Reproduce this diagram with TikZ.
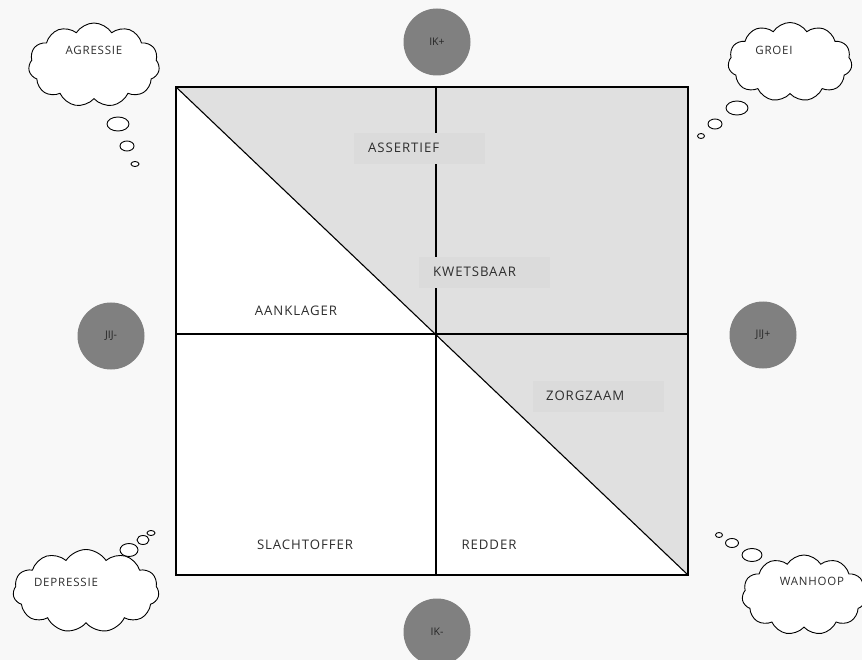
\documentclass[tikz,border=0pt]{standalone}
\usepackage{fontspec}
\setmainfont{Open Sans}
\newfontfamily\labelfont[LetterSpace=7]{Open Sans}
\usetikzlibrary{shapes.symbols,shapes.geometric}
\definecolor{bgc}{HTML}{F8F8F8}
\definecolor{regc}{HTML}{E0E0E0}
\definecolor{boxc}{HTML}{DBDBDB}
\definecolor{circc}{HTML}{808080}
\definecolor{txtc}{HTML}{2E2E2E}
\tikzset{
  qlabel/.style={font=\labelfont\fontsize{13.2}{15}\selectfont, text=txtc, inner sep=0pt},
  qbox/.style={fill=boxc, draw=none, minimum width=131pt, minimum height=31pt, inner sep=0pt},
  circ/.style={circle, fill=circc, draw=none, minimum size=67pt, inner sep=0pt,
    font=\fontsize{10.5}{12}\selectfont, text=black!85},
  thought/.style={cloud, cloud puffs=11, cloud puff arc=115, aspect=1.6, draw=black, fill=white,
    line width=0.9pt, inner sep=0pt},
  bubble/.style={ellipse, draw=black, fill=white, line width=0.9pt, inner sep=0pt},
  ctext/.style={font=\labelfont\fontsize{11.5}{13}\selectfont, text=txtc, inner sep=0pt},
  frame/.style={draw=black, line width=1.1pt},
}
\begin{document}
\begin{tikzpicture}[x=1pt,y=-1pt]
\useasboundingbox (0,0) rectangle (862,660);
\fill[bgc] (0,0) rectangle (862,660);
% square
\coordinate (tl) at (176,87);
\coordinate (tr) at (688,87);
\coordinate (bl) at (176,575);
\coordinate (br) at (688,575);
\coordinate (tm) at (436,87);
\coordinate (bm) at (436,575);
\coordinate (ml) at (176,334);
\coordinate (mr) at (688,334);
\fill[regc] (tl) -- (tr) -- (br) -- cycle;
\fill[white] (tl) -- (bl) -- (br) -- cycle;
\draw[frame] (tl) rectangle (br);
\draw[frame] (tm) -- (bm);
\draw[frame] (ml) -- (mr);
\draw[frame] (tl) -- (br);
% label boxes
\node[qbox] (bassert) at (419.5,148.5) {};
\node[qbox] (bkwets) at (484.5,272.5) {};
\node[qbox] (bzorg) at (598,396) {};
\node[qlabel, anchor=west] (assert) at (368,148) {ASSERTIEF};
\node[qlabel, anchor=west] (kwets) at (433,272) {KWETSBAAR};
\node[qlabel, anchor=west] (zorg) at (546,396) {ZORGZAAM};
\node[qlabel] (aank) at (296,311) {AANKLAGER};
\node[qlabel] (slacht) at (305,545) {SLACHTOFFER};
\node[qlabel] (redder) at (489,545) {REDDER};
% circles
\node[circ] (ikp) at (437,42) {IK+};
\node[circ] (ikm) at (437,632) {IK-};
\node[circ] (jijm) at (111,336) {JIJ-};
\node[circ] (jijp) at (763,335) {JIJ+};
% clouds
\node[thought, minimum width=131pt, minimum height=84pt] (cagr) at (94,65) {};
\node[ctext] (tagr) at (94,50) {AGRESSIE};
\node[bubble, minimum width=22pt, minimum height=14pt] (a1) at (118,124) {};
\node[bubble, minimum width=14pt, minimum height=10pt] (a2) at (127,146) {};
\node[bubble, minimum width=8pt, minimum height=5pt] (a3) at (135,164) {};
\node[thought, minimum width=124pt, minimum height=79pt] (cgro) at (790,62) {};
\node[ctext] (tgro) at (774,50) {GROEI};
\node[bubble, minimum width=22pt, minimum height=14pt] (g1) at (737,108) {};
\node[bubble, minimum width=14pt, minimum height=10pt] (g2) at (715,124) {};
\node[bubble, minimum width=7pt, minimum height=5pt] (g3) at (701,136) {};
\node[thought, minimum width=146pt, minimum height=83pt] (cdep) at (86,591) {};
\node[ctext] (tdep) at (66,582) {DEPRESSIE};
\node[bubble, minimum width=18pt, minimum height=13pt] (d1) at (129,550) {};
\node[bubble, minimum width=12pt, minimum height=9pt] (d2) at (143,540) {};
\node[bubble, minimum width=8pt, minimum height=5pt] (d3) at (151,533) {};
\node[thought, minimum width=124pt, minimum height=80pt] (cwan) at (804,595) {};
\node[ctext] (twan) at (812,581) {WANHOOP};
\node[bubble, minimum width=20pt, minimum height=13pt] (w1) at (752,555) {};
\node[bubble, minimum width=13pt, minimum height=9pt] (w2) at (732,543) {};
\node[bubble, minimum width=7pt, minimum height=5pt] (w3) at (719,535) {};
\end{tikzpicture}
\end{document}
